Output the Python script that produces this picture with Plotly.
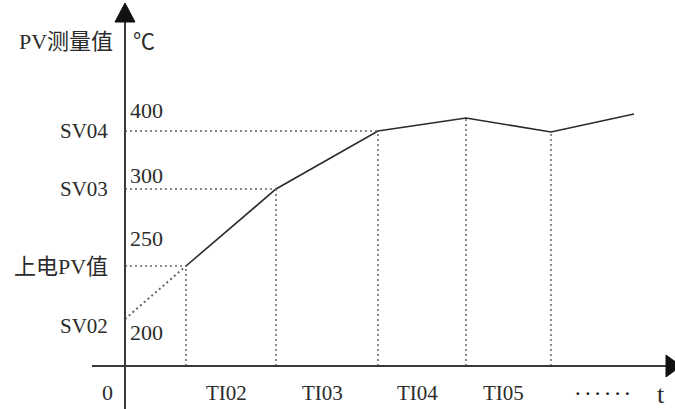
import plotly.graph_objects as go

# ---- data (schematic units) ----
time_points = [0, 61, 151, 253, 341, 426, 509]
pv_values = [47, 100, 177, 235, 248, 234, 252]

level_labels = ["SV02", "上电PV值", "SV03", "SV04"]
level_index = [0, 1, 2, 3]
level_numbers = ["200", "250", "300", "400"]
period_labels = ["TI02", "TI03", "TI04", "TI05"]

SERIF = "Liberation Serif, Noto Sans CJK SC, serif"
INK = "#2b2b2b"
DOT = "#666666"

fig = go.Figure()

# dashed start segment (power-on -> first point)
fig.add_trace(go.Scatter(x=time_points[:2], y=pv_values[:2], mode="lines",
                         line=dict(color=DOT, width=2, dash="2px,3px"),
                         hoverinfo="skip", showlegend=False))
# solid PV curve
fig.add_trace(go.Scatter(x=time_points[1:], y=pv_values[1:], mode="lines",
                         line=dict(color=INK, width=1.6),
                         hoverinfo="skip", showlegend=False))

# vertical dotted guides from curve down to t-axis
vx, vy = [], []
for t, v in zip(time_points[1:6], pv_values[1:6]):
    vx += [t, t, None]
    vy += [0, v, None]
fig.add_trace(go.Scatter(x=vx, y=vy, mode="lines",
                         line=dict(color=DOT, width=1.5, dash="2px,3px"),
                         hoverinfo="skip", showlegend=False))

# horizontal dotted guides from y-axis to the level points
hx, hy = [], []
for i in level_index[1:]:
    hx += [0, time_points[i], None]
    hy += [pv_values[i], pv_values[i], None]
fig.add_trace(go.Scatter(x=hx, y=hy, mode="lines",
                         line=dict(color=DOT, width=1.5, dash="2px,3px"),
                         hoverinfo="skip", showlegend=False))

annotations = []
# left level labels
level_yshift = [-7, 0, 0, 0]
for lab, i, ys in zip(level_labels, level_index, level_yshift):
    cjk = any(ord(c) > 127 for c in lab)
    annotations.append(dict(x=0, y=pv_values[i], text=lab, showarrow=False,
                            xanchor="right", yanchor="middle", xshift=-15, yshift=ys,
                            font=dict(family=SERIF, size=22 if cjk else 21, color=INK)))
# numeric labels next to the axis
number_yshift = [-13, 28, 14, 21]
for num, i, ys in zip(level_numbers, level_index, number_yshift):
    annotations.append(dict(x=0, y=pv_values[i], text=num, showarrow=False,
                            xanchor="left", yanchor="middle", xshift=3, yshift=ys,
                            font=dict(family=SERIF, size=22, color=INK)))
# period labels between guides
for k, lab in enumerate(period_labels):
    mid = (time_points[k + 1] + time_points[k + 2]) / 2
    annotations.append(dict(x=mid, y=0, text=lab, showarrow=False,
                            xanchor="center", yanchor="middle", xshift=-5, yshift=-27,
                            font=dict(family=SERIF, size=21, color=INK)))
annotations += [
    dict(x=0, y=0, text="0", showarrow=False, xanchor="center", yanchor="middle",
         xshift=-18, yshift=-26, font=dict(family=SERIF, size=22, color=INK)),
    dict(x=time_points[-1], y=0, text="<b>· · · · · ·</b>", showarrow=False, xanchor="center",
         yanchor="middle", xshift=-32, yshift=-27,
         font=dict(family=SERIF, size=17, color="#111")),
    dict(x=time_points[-1], y=0, text="t", showarrow=False, xanchor="center",
         yanchor="middle", xshift=27, yshift=-28,
         font=dict(family=SERIF, size=26, color=INK)),
    dict(x=0, y=325, text="PV测量值", showarrow=False, xanchor="right",
         yanchor="middle", xshift=-10, font=dict(family=SERIF, size=22, color=INK)),
    dict(x=0, y=325, text="℃", showarrow=False, xanchor="left",
         yanchor="middle", xshift=6, font=dict(family=SERIF, size=22, color=INK)),
]

AX = "#3a3a3a"
shapes = [
    # y axis line + arrow
    dict(type="line", xref="x", yref="y", x0=0, x1=0, y0=-43, y1=345,
         line=dict(color=AX, width=2)),
    dict(type="path", xref="x", yref="y", path="M -10 344 L 10 344 L 0 363 Z",
         fillcolor="#111", line=dict(color="#111", width=1)),
    # t axis line + arrow
    dict(type="line", xref="x", yref="y", x0=-33, x1=542, y0=0, y1=0,
         line=dict(color=AX, width=2)),
    dict(type="path", xref="x", yref="y", path="M 541 11 L 541 -11 L 556 0 Z",
         fillcolor="#111", line=dict(color="#111", width=1)),
]

fig.update_layout(
    width=675, height=409, autosize=False,
    margin=dict(l=0, r=0, t=0, b=0),
    paper_bgcolor="white", plot_bgcolor="white",
    xaxis=dict(range=[-125, 550], visible=False, fixedrange=True),
    yaxis=dict(range=[-43, 366], visible=False, fixedrange=True),
    annotations=annotations, shapes=shapes, showlegend=False,
)

fig.write_html("out.html", config={"displayModeBar": False},
               post_script="document.body.style.margin='0';document.body.style.overflow='hidden';")
